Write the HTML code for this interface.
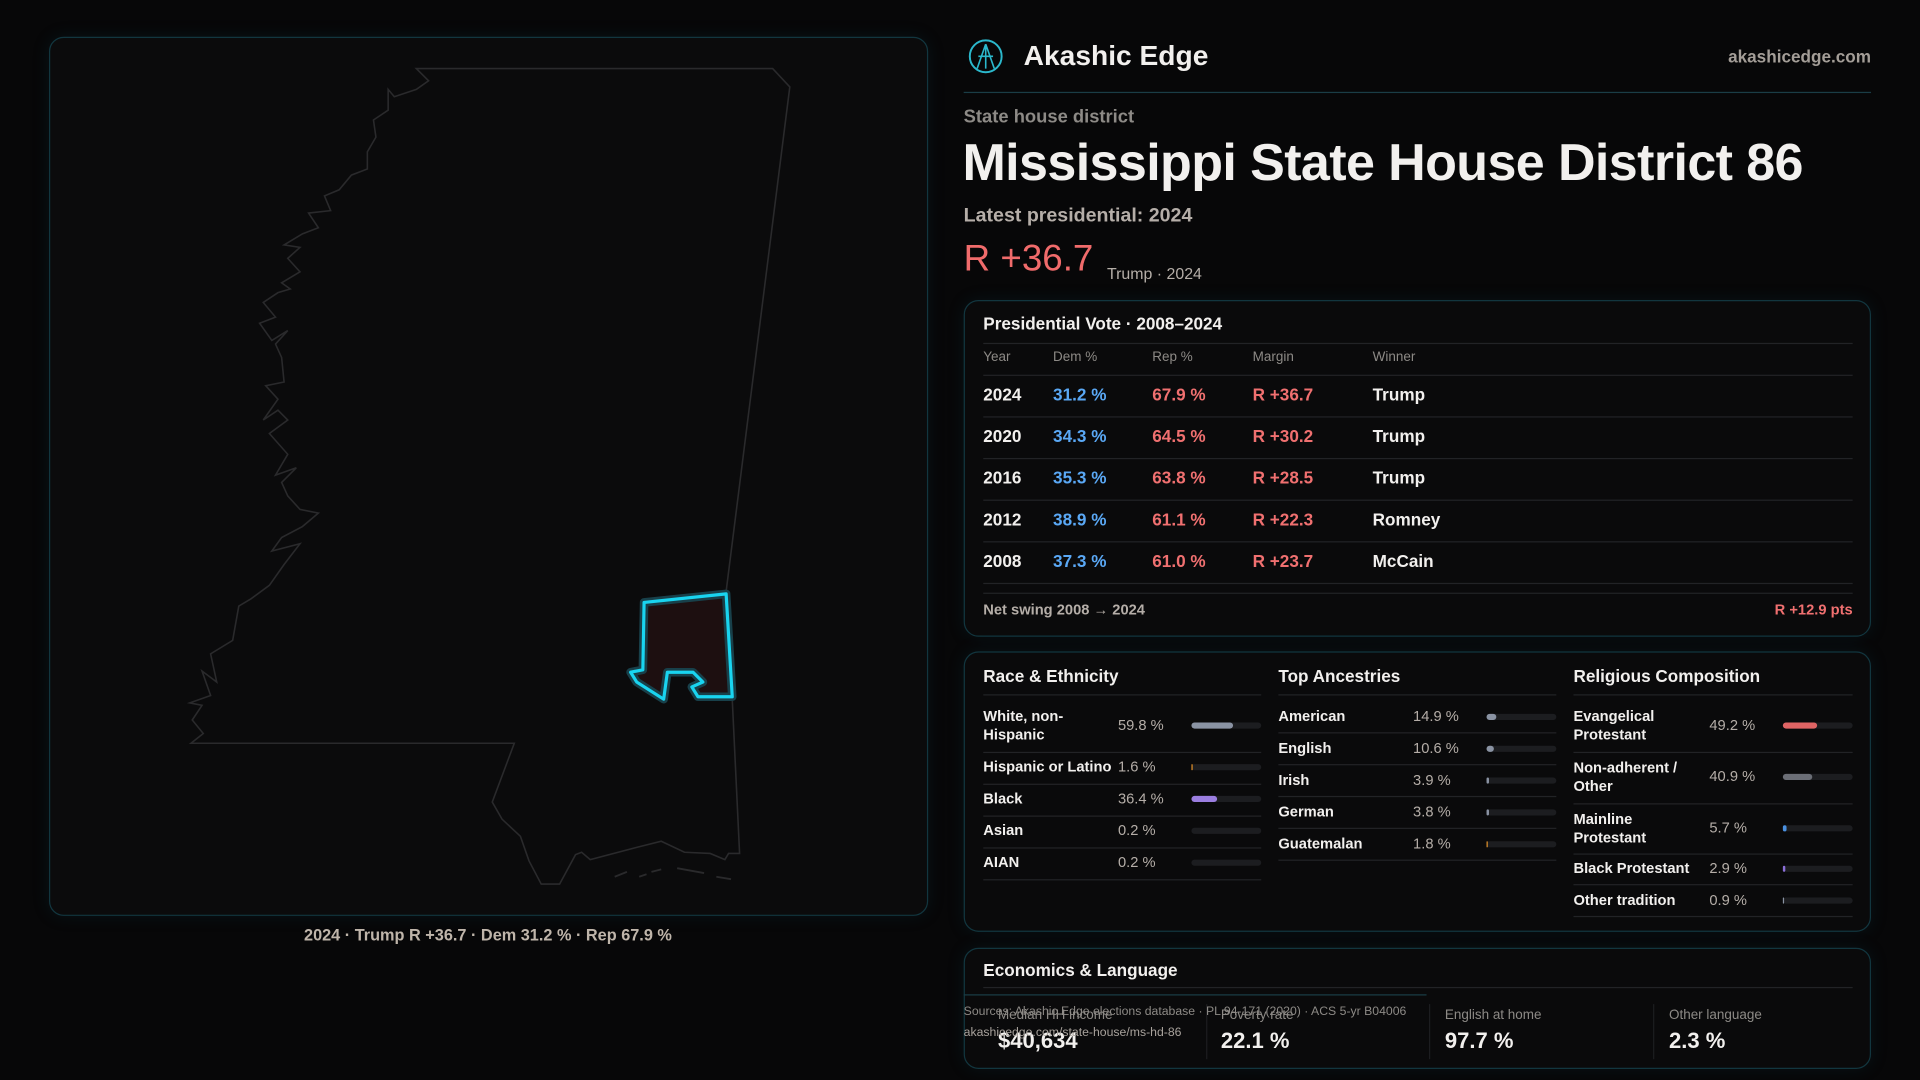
<!DOCTYPE html>
<html><head><meta charset="utf-8">
<style>
*{margin:0;padding:0;box-sizing:border-box}
html,body{width:1920px;height:1080px;background:#070708;overflow:hidden}
#w{position:absolute;left:0;top:0;width:1568px;height:882px;transform:scale(1.22449);transform-origin:0 0;font-family:"Liberation Sans",sans-serif;color:#f2f0ee}
.a{position:absolute;white-space:nowrap}
.box{position:absolute;border:1px solid #12363f;border-radius:12px;background:#0a0a0b;box-shadow:0 0 14px rgba(20,90,110,0.15)}
.hl{position:absolute;height:1px;background:#222326}
.g{color:#8d8a86}
.bar{position:absolute;height:5px;border-radius:3px;background:#1c1d20}
.bar i{position:absolute;left:0;top:0;height:5px;border-radius:3px;display:block}
</style></head><body><div id="w">
<div class="box" style="left:40px;top:30px;width:718px;height:718px;background:#0b0b0c"></div>
<svg class="a" style="left:0;top:0" width="800" height="760" viewBox="0 0 800 760">
<polygon fill="none" stroke="#2a2a2c" stroke-width="1.3" points="340,56 631,56 645,71 593,483 598,571 604,697 595,697 592,702 580,697 559,696 540,687 520,692 482,702 475,696 470,698 457,722 442,722 432,703 425,683 410,669 402,655 420,607 156,607 166,599 157,588 165,576 155,574 172,568 165,548 177,557 172,534 190,523 195,495 205,489 220,478 232,461 245,444 222,450 230,439 247,430 260,419 245,416 235,405 230,394 242,382 225,388 235,371 220,354 235,343 227,335 215,343 227,326 217,315 232,312 230,292 225,281 235,270 222,278 212,264 225,259 215,247 227,239 237,236 230,231 245,222 235,211 245,202 232,200 247,191 260,186 252,174 270,172 265,160 277,155 287,143 300,138 300,124 307,112 305,98 317,90 317,73 322,79 340,73 350,66"/>
<path d="M502,716 l10,-4 M522,716 l6,-2 M532,712 l8,-2 M553,709 l22,4 M585,716 l12,2" stroke="#2a2a2c" stroke-width="1.5"/>
<polygon fill="#1d0f10" stroke="#18404a" stroke-width="7" stroke-linejoin="round" points="526,492 593,485 598,569 570,569 565,561 574,557 566,549 545,549 542,571 520,557 515,549 525,547"/>
<polygon fill="none" stroke="#19d4f0" stroke-width="2.6" stroke-linejoin="round" points="526,492 593,485 598,569 570,569 565,561 574,557 566,549 545,549 542,571 520,557 515,549 525,547"/>
</svg>
<div class="a" style="left:0;width:797px;text-align:center;top:756px;font-size:13.3px;color:#bfb5aa;font-weight:bold">2024 · Trump R +36.7 · Dem 31.2 % · Rep 67.9 %</div>

<svg class="a" style="left:790px;top:31px" width="30" height="30" viewBox="0 0 30 30"><circle cx="15" cy="15" r="13" fill="none" stroke="#2bb8cc" stroke-width="1.6"/><path d="M15 5 L8 25 M15 5 L22 25 M9 15 L21 15 M15 5 L15 25" stroke="#2bb8cc" stroke-width="1.3" fill="none"/></svg>
<div class="a" style="left:836px;top:32px;font-size:23px;font-weight:bold">Akashic Edge</div>
<div class="a" style="right:40px;top:38px;font-size:14px;color:#a39d97;font-weight:bold">akashicedge.com</div>
<div class="hl" style="left:787px;top:75px;width:741px;background:#1a3d46"></div>
<div class="a g" style="left:787px;top:87px;font-size:15px;font-weight:bold">State house district</div>
<div class="a" style="left:786px;top:110px;font-size:42.5px;font-weight:bold;letter-spacing:-0.5px">Mississippi State House District 86</div>
<div class="a" style="left:787px;top:168px;font-size:16px;color:#b5aea8;font-weight:bold">Latest presidential: 2024</div>
<div class="a" style="left:787px;top:195px;font-size:30px;color:#f06b6b">R +36.7</div>
<div class="a" style="left:904px;top:216px;font-size:13px;color:#b5aea8">Trump · 2024</div>

<div class="box" style="left:787px;top:245px;width:741px;height:275px"></div>
<div class="a" style="left:803px;top:256px;font-size:14px;font-weight:bold">Presidential Vote · 2008–2024</div>
<div class="hl" style="left:803px;top:280px;width:710px"></div>
<div class="a g" style="left:803px;top:286px;font-size:11px">Year</div>
<div class="a g" style="left:860px;top:286px;font-size:11px">Dem %</div>
<div class="a g" style="left:941px;top:286px;font-size:11px">Rep %</div>
<div class="a g" style="left:1023px;top:286px;font-size:11px">Margin</div>
<div class="a g" style="left:1121px;top:286px;font-size:11px">Winner</div>
<div class="hl" style="left:803px;top:306px;width:710px"></div>
<div class="a" style="left:803px;top:314px;width:710px">
 <div style="position:relative;height:34px;font-size:14px;font-weight:bold"><span class="a" style="left:0">2024</span><span class="a" style="left:57px;color:#5aa8f5">31.2 %</span><span class="a" style="left:138px;color:#f07070">67.9 %</span><span class="a" style="left:220px;color:#f07070">R +36.7</span><span class="a" style="left:318px">Trump</span></div>
 <div style="position:relative;height:34px;font-size:14px;font-weight:bold"><span class="a" style="left:0">2020</span><span class="a" style="left:57px;color:#5aa8f5">34.3 %</span><span class="a" style="left:138px;color:#f07070">64.5 %</span><span class="a" style="left:220px;color:#f07070">R +30.2</span><span class="a" style="left:318px">Trump</span></div>
 <div style="position:relative;height:34px;font-size:14px;font-weight:bold"><span class="a" style="left:0">2016</span><span class="a" style="left:57px;color:#5aa8f5">35.3 %</span><span class="a" style="left:138px;color:#f07070">63.8 %</span><span class="a" style="left:220px;color:#f07070">R +28.5</span><span class="a" style="left:318px">Trump</span></div>
 <div style="position:relative;height:34px;font-size:14px;font-weight:bold"><span class="a" style="left:0">2012</span><span class="a" style="left:57px;color:#5aa8f5">38.9 %</span><span class="a" style="left:138px;color:#f07070">61.1 %</span><span class="a" style="left:220px;color:#f07070">R +22.3</span><span class="a" style="left:318px">Romney</span></div>
 <div style="position:relative;height:34px;font-size:14px;font-weight:bold"><span class="a" style="left:0">2008</span><span class="a" style="left:57px;color:#5aa8f5">37.3 %</span><span class="a" style="left:138px;color:#f07070">61.0 %</span><span class="a" style="left:220px;color:#f07070">R +23.7</span><span class="a" style="left:318px">McCain</span></div>
</div>
<div class="hl" style="left:803px;top:340px;width:710px"></div>
<div class="hl" style="left:803px;top:374px;width:710px"></div>
<div class="hl" style="left:803px;top:408px;width:710px"></div>
<div class="hl" style="left:803px;top:442px;width:710px"></div>
<div class="hl" style="left:803px;top:476px;width:710px"></div>
<div class="hl" style="left:803px;top:484px;width:710px"></div>
<div class="a" style="left:803px;top:491px;font-size:12px;color:#b5aea8;font-weight:bold">Net swing 2008 → 2024</div>
<div class="a" style="right:55px;top:491px;font-size:12px;color:#f07070;font-weight:bold">R +12.9 pts</div>

<div class="box" style="left:787px;top:532px;width:741px;height:229px"></div>
<div class="a" style="left:803px;top:544px;font-size:14px;font-weight:bold">Race &amp; Ethnicity</div>
<div class="a" style="left:1044px;top:544px;font-size:14px;font-weight:bold">Top Ancestries</div>
<div class="a" style="left:1285px;top:544px;font-size:14px;font-weight:bold">Religious Composition</div>
<div class="hl" style="left:803px;top:567px;width:227px"></div>
<div class="hl" style="left:1044px;top:567px;width:227px"></div>
<div class="hl" style="left:1285px;top:567px;width:228px"></div>
<div style="font-size:12px;font-weight:bold;line-height:15px">
<div class="a" style="left:803px;top:578px;white-space:normal;width:100px">White, non-<br>Hispanic</div><div class="a" style="left:913px;top:585px;color:#b5aea8;font-weight:normal">59.8 %</div><div class="bar" style="left:973px;top:590px;width:57px"><i style="width:34px;background:#8a93a3"></i></div>
<div class="hl" style="left:803px;top:614px;width:227px"></div>
<div class="a" style="left:803px;top:619px">Hispanic or Latino</div><div class="a" style="left:913px;top:619px;color:#b5aea8;font-weight:normal">1.6 %</div><div class="bar" style="left:973px;top:624px;width:57px"><i style="width:1px;background:#e0902a"></i></div>
<div class="hl" style="left:803px;top:640px;width:227px"></div>
<div class="a" style="left:803px;top:645px">Black</div><div class="a" style="left:913px;top:645px;color:#b5aea8;font-weight:normal">36.4 %</div><div class="bar" style="left:973px;top:650px;width:57px"><i style="width:21px;background:#9b7ee0"></i></div>
<div class="hl" style="left:803px;top:666px;width:227px"></div>
<div class="a" style="left:803px;top:671px">Asian</div><div class="a" style="left:913px;top:671px;color:#b5aea8;font-weight:normal">0.2 %</div><div class="bar" style="left:973px;top:676px;width:57px"></div>
<div class="hl" style="left:803px;top:692px;width:227px"></div>
<div class="a" style="left:803px;top:697px">AIAN</div><div class="a" style="left:913px;top:697px;color:#b5aea8;font-weight:normal">0.2 %</div><div class="bar" style="left:973px;top:702px;width:57px"></div>
<div class="hl" style="left:803px;top:718px;width:227px"></div>
<div class="a" style="left:1044px;top:578px">American</div><div class="a" style="left:1154px;top:578px;color:#b5aea8;font-weight:normal">14.9 %</div><div class="bar" style="left:1214px;top:583px;width:57px"><i style="width:8px;background:#8a93a3"></i></div>
<div class="hl" style="left:1044px;top:598px;width:227px"></div>
<div class="a" style="left:1044px;top:604px">English</div><div class="a" style="left:1154px;top:604px;color:#b5aea8;font-weight:normal">10.6 %</div><div class="bar" style="left:1214px;top:609px;width:57px"><i style="width:6px;background:#8a93a3"></i></div>
<div class="hl" style="left:1044px;top:624px;width:227px"></div>
<div class="a" style="left:1044px;top:630px">Irish</div><div class="a" style="left:1154px;top:630px;color:#b5aea8;font-weight:normal">3.9 %</div><div class="bar" style="left:1214px;top:635px;width:57px"><i style="width:2px;background:#8a93a3"></i></div>
<div class="hl" style="left:1044px;top:650px;width:227px"></div>
<div class="a" style="left:1044px;top:656px">German</div><div class="a" style="left:1154px;top:656px;color:#b5aea8;font-weight:normal">3.8 %</div><div class="bar" style="left:1214px;top:661px;width:57px"><i style="width:2px;background:#8a93a3"></i></div>
<div class="hl" style="left:1044px;top:676px;width:227px"></div>
<div class="a" style="left:1044px;top:682px">Guatemalan</div><div class="a" style="left:1154px;top:682px;color:#b5aea8;font-weight:normal">1.8 %</div><div class="bar" style="left:1214px;top:687px;width:57px"><i style="width:1px;background:#e0902a"></i></div>
<div class="hl" style="left:1044px;top:702px;width:227px"></div>
<div class="a" style="left:1285px;top:578px">Evangelical<br>Protestant</div><div class="a" style="left:1396px;top:585px;color:#b5aea8;font-weight:normal">49.2 %</div><div class="bar" style="left:1456px;top:590px;width:57px"><i style="width:28px;background:#e06464"></i></div>
<div class="hl" style="left:1285px;top:614px;width:228px"></div>
<div class="a" style="left:1285px;top:620px">Non-adherent /<br>Other</div><div class="a" style="left:1396px;top:627px;color:#b5aea8;font-weight:normal">40.9 %</div><div class="bar" style="left:1456px;top:632px;width:57px"><i style="width:24px;background:#6b6e76"></i></div>
<div class="hl" style="left:1285px;top:656px;width:228px"></div>
<div class="a" style="left:1285px;top:662px">Mainline<br>Protestant</div><div class="a" style="left:1396px;top:669px;color:#b5aea8;font-weight:normal">5.7 %</div><div class="bar" style="left:1456px;top:674px;width:57px"><i style="width:3px;background:#4a90e0"></i></div>
<div class="hl" style="left:1285px;top:697px;width:228px"></div>
<div class="a" style="left:1285px;top:702px">Black Protestant</div><div class="a" style="left:1396px;top:702px;color:#b5aea8;font-weight:normal">2.9 %</div><div class="bar" style="left:1456px;top:707px;width:57px"><i style="width:2px;background:#8b6fd8"></i></div>
<div class="hl" style="left:1285px;top:722px;width:228px"></div>
<div class="a" style="left:1285px;top:728px">Other tradition</div><div class="a" style="left:1396px;top:728px;color:#b5aea8;font-weight:normal">0.9 %</div><div class="bar" style="left:1456px;top:733px;width:57px"><i style="width:1px;background:#8a93a3"></i></div>
<div class="hl" style="left:1285px;top:748px;width:228px"></div>
</div>

<div class="box" style="left:787px;top:774px;width:741px;height:99px"></div>
<div class="a" style="left:803px;top:784px;font-size:14px;font-weight:bold">Economics &amp; Language</div>
<div class="hl" style="left:803px;top:806px;width:710px"></div>
<div class="hl" style="left:787px;top:812px;width:378px;background:#1a3d46"></div>
<div class="a" style="left:985px;top:820px;width:1px;height:45px;background:#1c1d20"></div>
<div class="a" style="left:1167px;top:820px;width:1px;height:45px;background:#1c1d20"></div>
<div class="a" style="left:1350px;top:820px;width:1px;height:45px;background:#1c1d20"></div>
<div class="a g" style="left:815px;top:823px;font-size:11px">Median HH income</div>
<div class="a g" style="left:997px;top:823px;font-size:11px">Poverty rate</div>
<div class="a g" style="left:1180px;top:823px;font-size:11px">English at home</div>
<div class="a g" style="left:1363px;top:823px;font-size:11px">Other language</div>
<div class="a" style="left:815px;top:840px;font-size:18px;font-weight:bold">$40,634</div>
<div class="a" style="left:997px;top:840px;font-size:18px;font-weight:bold">22.1 %</div>
<div class="a" style="left:1180px;top:840px;font-size:18px;font-weight:bold">97.7 %</div>
<div class="a" style="left:1363px;top:840px;font-size:18px;font-weight:bold">2.3 %</div>
<div class="a g" style="left:787px;top:821px;font-size:10px">Sources: Akashic Edge elections database · PL 94-171 (2020) · ACS 5-yr B04006</div>
<div class="a" style="left:787px;top:838px;font-size:10px;color:#a8a29c">akashicedge.com/state-house/ms-hd-86</div>
</div></body></html>
